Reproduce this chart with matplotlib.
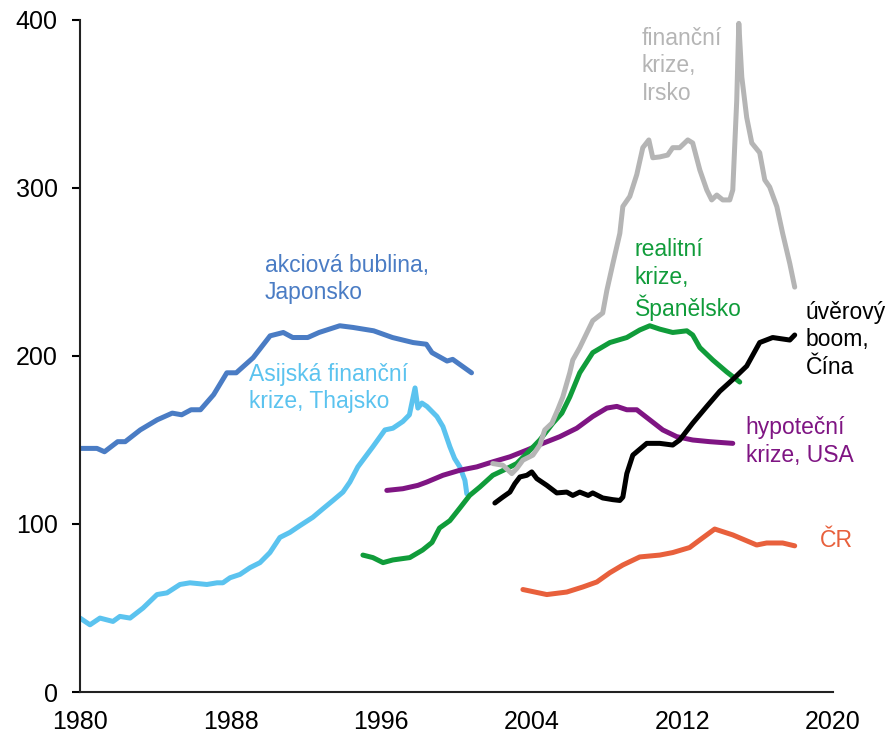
import matplotlib.pyplot as plt

# indexy cen nemovitosti / akcii
japan_years = [1980.0, 1980.9, 1981.3, 1982.0, 1982.4, 1983.2, 1984.1, 1984.9, 1985.4, 1985.9,
               1986.4, 1987.1, 1987.8, 1988.3, 1988.9, 1989.2, 1990.1, 1990.8, 1991.3, 1992.1,
               1992.7, 1993.8, 1994.5, 1995.6, 1996.6, 1997.7, 1998.4, 1998.7, 1999.5, 1999.8, 2000.8]
japan_values = [145, 145, 143, 149, 149, 156, 162, 166, 165, 168,
                168, 177, 190, 190, 196, 199, 212, 214, 211, 211,
                214, 218, 217, 215, 211, 208, 207, 202, 197, 198, 190]

thai_years = [1980.0, 1980.53, 1981.06, 1981.75, 1982.12, 1982.66, 1983.35, 1984.09, 1984.62, 1985.31,
              1985.84, 1986.74, 1987.28, 1987.59, 1987.97, 1988.5, 1989.03, 1989.56, 1990.09, 1990.62,
              1991.15, 1991.68, 1992.37, 1992.9, 1993.44, 1993.97, 1994.34, 1994.76, 1995.56, 1996.2,
              1996.62, 1997.15, 1997.5, 1997.8, 1997.95, 1998.16, 1998.43, 1998.96, 1999.28, 1999.65,
              1999.9, 2000.18, 2000.45, 2000.55]
thai_values = [44, 40, 44, 42, 45, 44, 50, 58, 59, 64,
               65, 64, 65, 65, 68, 70, 74, 77, 83, 92,
               95, 99, 104, 109, 114, 119, 125, 134, 146, 156,
               157, 161, 165, 181, 169, 172, 170, 164, 158, 146,
               139, 134, 126, 118]

usa_years = [1996.3, 1997.15, 1997.95, 1998.43, 1999.28, 2000.18, 2001.08, 2001.93, 2002.84, 2003.74,
             2004.59, 2005.49, 2006.39, 2007.24, 2007.99, 2008.52, 2009.05, 2009.58, 2010.27, 2010.96,
             2011.7, 2012.55, 2013.46, 2014.68]
usa_values = [120, 121, 123, 125, 129, 132, 134, 137, 140, 144,
              148, 152, 157, 164, 169, 170, 168, 168, 162, 156,
              152, 150, 149, 148]

spain_years = [1995.03, 1995.56, 1996.1, 1996.62, 1997.52, 1998.2, 1998.7, 1999.1, 1999.65, 2000.18,
               2000.7, 2001.24, 2001.93, 2002.68, 2003.2, 2003.74, 2004.43, 2005.12, 2005.6, 2006.02,
               2006.55, 2007.24, 2008.15, 2009.05, 2009.74, 2010.27, 2010.8, 2011.49, 2012.24, 2012.55,
               2012.93, 2013.62, 2014.36, 2015.05]
spain_values = [81.5, 80, 77, 78.6, 80, 84.5, 89, 97.6, 102, 109.5,
                117, 122, 129, 133, 136, 142, 150, 160, 166, 175.6,
                190, 202, 208, 211, 215.5, 218, 216, 214, 215, 212.5,
                205, 197.6, 190.5, 184.5]

ireland_years = [2001.93, 2002.46, 2002.94, 2003.2, 2003.53, 2004.06, 2004.43, 2004.69, 2005.07, 2005.38,
                 2005.65, 2006.02, 2006.18, 2006.55, 2007.24, 2007.77, 2007.99, 2008.31, 2008.68, 2008.84,
                 2009.21, 2009.58, 2009.9, 2010.22, 2010.43, 2010.8, 2011.22, 2011.49, 2011.86, 2012.29,
                 2012.55, 2012.93, 2013.3, 2013.56, 2013.83, 2014.15, 2014.52, 2014.68, 2014.89, 2015.0,
                 2015.16, 2015.42, 2015.69, 2016.11, 2016.38, 2016.64, 2017.02, 2017.33, 2017.71, 2017.97]
ireland_values = [136, 135, 130, 133, 138, 141, 147, 156, 160, 168,
                  175.6, 190, 197.6, 205, 221, 225.6, 239, 255, 273, 289,
                  295, 308, 324, 328.6, 318, 318.5, 319.6, 324, 324, 328.6,
                  326.8, 310.7, 298.8, 292.9, 295.8, 292.9, 292.9, 298.8, 352, 398,
                  366, 342, 326.8, 321, 304.8, 300.6, 289, 273, 255, 241]

china_years = [2002.04, 2002.46, 2002.84, 2003.1, 2003.37, 2003.74, 2004.0, 2004.27, 2004.8, 2005.33,
               2005.86, 2006.18, 2006.55, 2007.0, 2007.24, 2007.77, 2008.3, 2008.68, 2008.84, 2009.05,
               2009.37, 2010.11, 2010.8, 2011.49, 2011.86, 2012.55, 2013.3, 2013.99, 2014.68, 2015.42,
               2016.11, 2016.8, 2017.71, 2017.97]
china_values = [112.5, 116, 119, 124, 128, 129, 131, 127, 123, 118.5,
                119, 117, 119, 117, 118.5, 115.5, 114.5, 114, 116, 130,
                141, 148, 148, 147, 150, 160, 170, 179, 186, 194,
                208, 211, 209.5, 212.5]

cz_years = [2003.53, 2004.8, 2005.86, 2006.71, 2007.46, 2008.15, 2008.84, 2009.74, 2010.8, 2011.49,
            2012.39, 2012.93, 2013.72, 2014.68, 2015.95, 2016.48, 2017.33, 2017.97]
cz_values = [61, 58, 59.5, 62.5, 65.5, 71, 75.6, 80.4, 81.5, 83,
             86, 90.5, 97, 93.5, 87.5, 88.7, 88.7, 87]

x_ticks = [1980, 1988, 1996, 2004, 2012, 2020]
y_ticks = [0, 100, 200, 300, 400]


def main() -> None:
    plt.rcParams["font.family"] = ["Liberation Sans", "DejaVu Sans"]

    fig = plt.figure(figsize = (8.91, 7.35), dpi = 100)
    ax = fig.add_axes([0.0898, 0.0585, 0.845, 0.9143])

    series = [
        (japan_years, japan_values, "#4a7cc4"),
        (thai_years, thai_values, "#5bc3ef"),
        (usa_years, usa_values, "#7f1583"),
        (spain_years, spain_values, "#109c3a"),
        (ireland_years, ireland_values, "#b5b5b5"),
        (china_years, china_values, "#000000"),
        (cz_years, cz_values, "#e8603c"),
    ]
    for xs, ys, color in series:
        ax.plot(xs, ys, color = color, lw = 3.6, solid_joinstyle = "round", solid_capstyle = "round")

    label_kw = dict(fontsize = 16.5, va = "top", ha = "left", linespacing = 1.25)
    ax.text(1989.82, 261, "akciová bublina,\nJaponsko", color = "#4a7cc4", **label_kw)
    ax.text(1988.97, 196, "Asijská finanční\nkrize, Thajsko", color = "#5bc3ef", **label_kw)
    ax.text(2009.85, 396, "finanční\nkrize,\nIrsko", color = "#b5b5b5", **label_kw)
    ax.text(2009.47, 270, "realitní\nkrize,\nŠpanělsko", color = "#109c3a", **label_kw)
    ax.text(2018.56, 233, "úvěrový\nboom,\nČína", color = "#000000", **label_kw)
    ax.text(2015.37, 164, "hypoteční\nkrize, USA", color = "#7f1583", **label_kw)
    ax.text(2019.3, 97, "ČR", color = "#e8603c", **label_kw)

    ax.set_xlim(1980, 2020)
    ax.set_ylim(0, 400)
    ax.set_xticks(x_ticks)
    ax.set_yticks(y_ticks)
    ax.tick_params(axis = "x", length = 0, pad = 13, labelsize = 18)
    ax.tick_params(axis = "y", length = 6, width = 1.5, pad = 10, labelsize = 18)
    for side in ["top", "right"]:
        ax.spines[side].set_visible(False)
    for side in ["left", "bottom"]:
        ax.spines[side].set_linewidth(1.5)
        ax.spines[side].set_color("#222222")

    fig.savefig("out.png", dpi = 100)
    plt.close(fig)


if __name__ == "__main__":
    main()
